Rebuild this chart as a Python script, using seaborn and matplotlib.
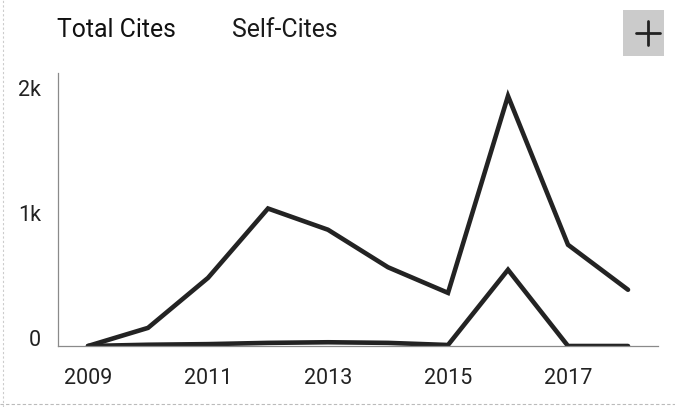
import pandas as pd
import matplotlib
matplotlib.use('Agg')
import matplotlib.pyplot as plt
import matplotlib.transforms as mtransforms
from matplotlib.patches import Rectangle
from matplotlib.lines import Line2D
import seaborn as sns

# data
years = [2009, 2010, 2011, 2012, 2013, 2014, 2015, 2016, 2017, 2018]
total_cites = [0, 145, 545, 1100, 930, 630, 425, 2000, 810, 450]
self_cites = [0, 10, 15, 25, 30, 25, 8, 610, 0, 0]
series_names = ['Total Cites', 'Self-Cites']
xtick_years = [2009, 2011, 2013, 2015, 2017]
ytick_vals = [0, 1000, 2000]
ytick_labels = ['0', '1k', '2k']

df = pd.DataFrame({
    'year': years * 2,
    'cites': total_cites + self_cites,
    'series': [series_names[0]] * len(years) + [series_names[1]] * len(years),
})

sns.set_style('white')
plt.rcParams['font.family'] = ['Roboto', 'DejaVu Sans']

fig = plt.figure(figsize=(6.75, 4.07), dpi=100)
W, H = 675, 407
ax = fig.add_axes([58 / W, (H - 346) / H, 600 / W, 273 / H])

line_col = '#232323'
sns.lineplot(data=df, x='year', y='cites', hue='series',
             palette=[line_col, line_col], linewidth=3.3, legend=False, ax=ax,
             solid_joinstyle='miter')

ax.set_xlim(2008.5, 2018.5)
ax.set_ylim(0, 2184)
ax.set_xticks(xtick_years)
ax.set_xticklabels([str(y) for y in xtick_years])
ax.set_yticks(ytick_vals)
ax.set_yticklabels(ytick_labels)
ax.set_xlabel('')
ax.set_ylabel('')
ax.tick_params(axis='both', length=0, labelsize=15.5, colors='#222222')
ax.tick_params(axis='x', pad=16)
ax.tick_params(axis='y', pad=12)

# y labels sit a bit above their gridline value
offset = mtransforms.ScaledTranslation(0, 8 / 100, fig.dpi_scale_trans)
for lab in ax.get_yticklabels():
    lab.set_transform(lab.get_transform() + offset)

for side in ['top', 'right']:
    ax.spines[side].set_visible(False)
for side in ['left', 'bottom']:
    ax.spines[side].set_color('#8a8a8a')
    ax.spines[side].set_linewidth(0.9)

# legend texts
fig.text(57 / W, 1 - 30 / H, series_names[0], fontsize=17.8, color='#111111',
         va='center', ha='left')
fig.text(232 / W, 1 - 30 / H, series_names[1], fontsize=17.8, color='#1a1a1a',
         va='center', ha='left')

# "+" button top right
fig.add_artist(Rectangle((623 / W, 1 - 56 / H), 41 / W, 46 / H,
                         transform=fig.transFigure, facecolor='#cbcbcb',
                         edgecolor='none'))
fig.add_artist(Line2D([636 / W, 660 / W], [1 - 33 / H, 1 - 33 / H],
                      transform=fig.transFigure, color='#222222', lw=2))
fig.add_artist(Line2D([648 / W, 648 / W], [1 - 21 / H, 1 - 45 / H],
                      transform=fig.transFigure, color='#222222', lw=2))

# faint scan edges
fig.add_artist(Line2D([3 / W, 3 / W], [0, 1], transform=fig.transFigure,
                      color='#cccccc', lw=0.8, ls=(0, (2, 2))))
fig.add_artist(Line2D([0, 1], [3 / H, 3 / H], transform=fig.transFigure,
                      color='#bbbbbb', lw=0.8, ls=(0, (3, 2))))

fig.savefig('out.png', dpi=100)
